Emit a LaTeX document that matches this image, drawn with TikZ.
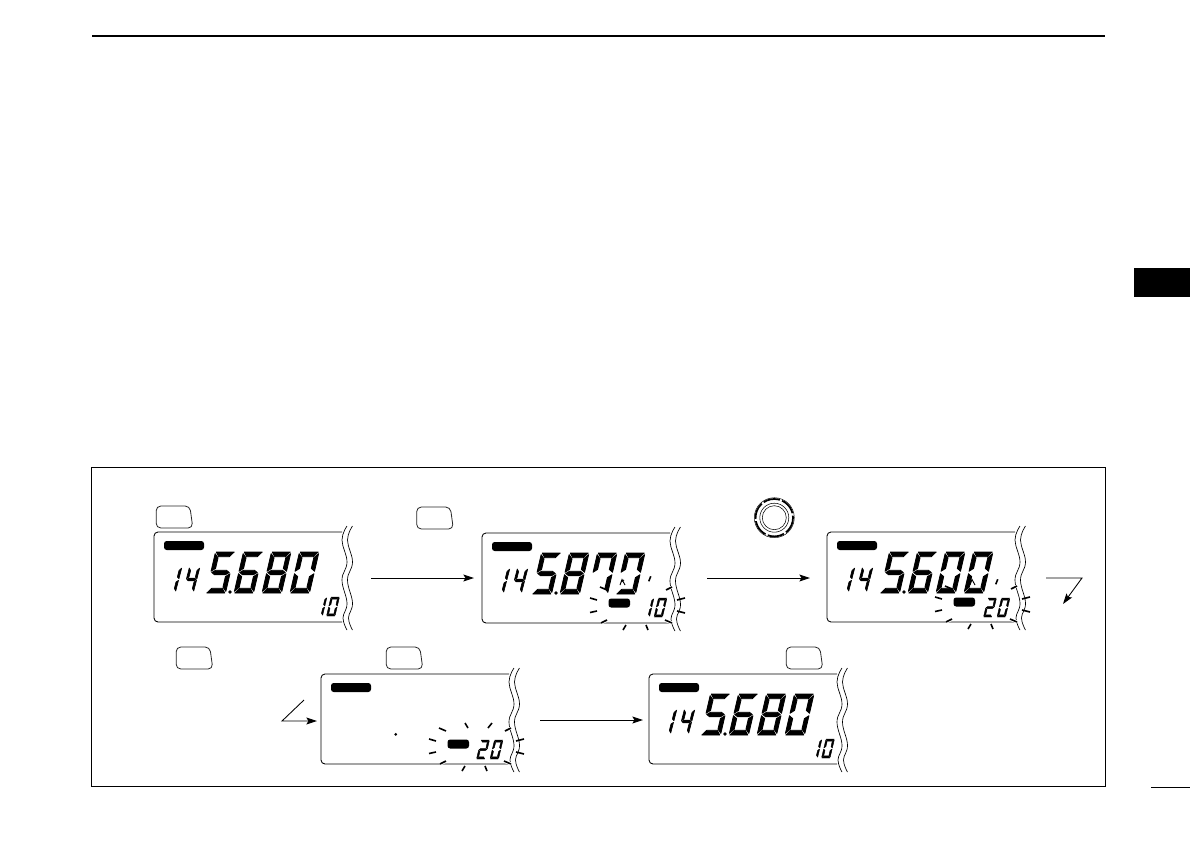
\documentclass[tikz,border=0pt]{standalone}
\usetikzlibrary{arrows.meta,calc}
\tikzset{
  x=0.75pt,y=-0.75pt,
  thin line/.style={line width=0.65pt,black},
  hair line/.style={line width=0.5pt,black},
  arrow line/.style={line width=0.65pt,black,-{Stealth[length=8pt,width=5.2pt,inset=1.6pt]}},
  ruleline/.style={line width=1pt,black},
  btnnode/.style={minimum width=27.5pt,minimum height=16.5pt,inner sep=0pt,outer sep=0pt},
  btnline/.style={line width=0.6pt,black!85,rounded corners=3.5pt},
  ticks/.style={line width=1.2pt,black},
  halo/.style={preaction={draw=white,line width=2.4pt}},
  segstroke/.style={every path/.style={draw,line width=#1,line join=round}},
}
% segments in unit coordinates: u 0..1 to the right, v 0..1 upwards
\newcommand\SegA{\fill (0.04,1)--(0.96,1)--(0.76,0.885)--(0.22,0.885)--cycle;}
\newcommand\SegD{\fill (0.04,0)--(0.96,0)--(0.78,0.115)--(0.24,0.115)--cycle;}
\newcommand\SegG{\fill (0.05,0.5)--(0.22,0.445)--(0.78,0.445)--(0.95,0.5)--(0.78,0.555)--(0.22,0.555)--cycle;}
\newcommand\SegF{\fill (0,0.96)--(0.2,0.86)--(0.2,0.6)--(0,0.53)--cycle;}
\newcommand\SegB{\fill (1,0.96)--(0.8,0.86)--(0.8,0.6)--(1,0.53)--cycle;}
\newcommand\SegE{\fill (0,0.04)--(0.2,0.14)--(0.2,0.4)--(0,0.47)--cycle;}
\newcommand\SegC{\fill (1,0.04)--(0.8,0.14)--(0.8,0.4)--(1,0.47)--cycle;}
\newcommand\DZero{\SegA\SegB\SegC\SegD\SegE\SegF}
\newcommand\DOne{\SegB\SegC}
\newcommand\DTwo{\SegA\SegB\SegG\SegE\SegD}
\newcommand\DFour{\SegF\SegG\SegB\SegC}
\newcommand\DFive{\SegA\SegF\SegG\SegC\SegD}
\newcommand\DSix{\SegA\SegF\SegG\SegC\SegD\SegE}
\newcommand\DEight{\SegA\SegB\SegC\SegD\SegE\SegF\SegG}
% #1 x, #2 y of lower left, #3 w, #4 h, #5 slant, #6 stroke, #7 segments
\newcommand\LcdDigit[7]{\begin{scope}[segstroke=#6,shift={(#1,#2)},x={(#3*0.75pt,0pt)},y={(#5*0.75pt,#4*0.75pt)}]#7\end{scope}}
\newcommand\BigD[3]{\LcdDigit{#1}{#2}{19.5}{41}{9.5}{0.6pt}{#3}}
\newcommand\MidD[3]{\LcdDigit{#1}{#2}{10.5}{25}{6.5}{0.45pt}{#3}}
\newcommand\SmlD[3]{\LcdDigit{#1}{#2}{8.5}{19}{4.5}{0.3pt}{#3}}
% LCD frame at origin: bar, outline, torn edge
\newcommand\LcdFrame{%
  \draw[thin line,rounded corners=3pt] (188,0)--(0,0)--(0,90)--(188,90);
  \fill[rounded corners=2pt] (10,9) rectangle (50,18);
  \draw[hair line] plot[smooth,tension=0.7] coordinates {(193,-6)(188,8)(193,30)(188,48)(193,71)(189,86)(193,98)};
  \draw[hair line] plot[smooth,tension=0.7] coordinates {(198.5,-6)(193.5,8)(198.5,30)(193.5,48)(198.5,71)(194.5,86)(198.5,98)};
}
\newcommand\Freq[1]{\MidD{11}{60}{\DOne}\MidD{29}{60}{\DFour}#1}
\newcommand\Blink{%
  \fill[rounded corners=2pt] (126.5,65.5) rectangle (148,74.5);
  \draw[ticks] (108,65)--(115,67) (108,79.5)--(115,78) (118,54)--(125,57) (141,97)--(144,92) (166,97)--(164,92) (195,67)--(203,65) (195,78)--(203,80);
  \draw[ticks,halo] (119,90)--(125,87);
  \draw[ticks,halo] (183,87)--(190,90);
  \draw[ticks,halo] (184,57)--(190,54);
}
\newcommand\Btn[3]{%
  \node[btnnode] (#1) at (#2,#3) {};
  \draw[btnline] (#1.north west)--($(#1.north east)+(-3,0)$)--(#1.south east)--(#1.south west)--cycle;
}
\begin{document}
\begin{tikzpicture}
\useasboundingbox (0,0) rectangle (1190,843);
\fill[white] (0,0) rectangle (1190,843);
% page furniture
\coordinate (ruleL) at (92,36); \coordinate (ruleR) at (1105,36);
\draw[ruleline] (ruleL)--(ruleR);
\fill (1134,268) rectangle (1190,297);
\coordinate (pgL) at (1151,787); \coordinate (pgR) at (1190,787);
\draw[line width=0.75pt] (pgL)--(pgR);
\draw[line width=0.65pt] (91,467) rectangle (1105,786.5);
% buttons
\Btn{b1}{174.5}{517}
\Btn{b2}{435}{518}
\Btn{b3}{194.5}{658}
\Btn{b4}{404.5}{658}
\Btn{b5}{804.5}{658}
% dial
\node[circle,minimum size=30pt,inner sep=0pt] (dial) at (774.3,517.7) {};
\draw[line width=1.3pt,dash pattern=on 12.6pt off 1.8pt] (dial.center) circle (18.7);
\draw[line width=0.35pt] (dial.center) circle (20);
\draw[line width=0.4pt] (dial.center) circle (14.5);
\draw[line width=0.4pt] (dial.center) circle (12);
% display 1
\begin{scope}[shift={(154,532)}]
  \LcdFrame
  \Freq{\BigD{52}{61}{\DFive}\BigD{80}{61}{\DSix}\BigD{108}{61}{\DEight}\BigD{136}{61}{\DZero}}
  \fill (76,60) circle (1.8);
  \SmlD{160}{84}{\DOne}\SmlD{172.5}{84}{\DZero}
\end{scope}
% display 2
\begin{scope}[shift={(482,533)}]
  \LcdFrame
  \Freq{\BigD{50}{61}{\DFive}\BigD{78}{61}{\DEight}\BigD{106}{61}{\SegA\SegF\SegB\SegC}\BigD{134}{61}{\SegA\SegF\SegB\SegC\SegD}}
  \fill (74,60) circle (1.8);
  \draw[line width=0.7pt] (138,52)--(140,46.5)--(143,52) (139,49)--(142,47);
  \fill (166,48)--(168,43)--(169.5,43.5)--(167.5,48.5)--cycle;
  \Blink
  \SmlD{159}{84}{\DOne}\SmlD{172}{84}{\DZero}
\end{scope}
% display 3
\begin{scope}[shift={(827,532)}]
  \LcdFrame
  \Freq{\BigD{53}{61}{\DFive}\BigD{81}{61}{\DSix}\BigD{109}{61}{\DZero}\BigD{137}{61}{\DZero}}
  \fill (77,60) circle (1.8);
  \draw[line width=0.7pt] (143,53)--(145,47.5)--(148,53);
  \fill (168,52)--(170,47)--(171.5,47.5)--(169.5,52.5)--cycle;
  \Blink
  \SmlD{156.5}{85}{\DTwo}\SmlD{170}{85}{\DZero}
\end{scope}
% display 4
\begin{scope}[shift={(321,674)}]
  \LcdFrame
  \fill (74.7,60.3) circle (1.5);
  \Blink
  \draw[ticks] (144,49)--(147,54) (167,54)--(171,49);
  \SmlD{155.5}{85}{\DTwo}\SmlD{169}{85}{\DZero}
\end{scope}
% display 5
\begin{scope}[shift={(649,674)}]
  \LcdFrame
  \Freq{\BigD{52}{61}{\DFive}\BigD{80}{61}{\DSix}\BigD{108}{61}{\DEight}\BigD{136}{61}{\DZero}}
  \fill (76,60) circle (1.8);
  \SmlD{160}{84}{\DOne}\SmlD{172.5}{84}{\DZero}
\end{scope}
% connectors
\coordinate (a1s) at (371,578); \coordinate (a1e) at (474,578);
\coordinate (a2s) at (707,578); \coordinate (a2e) at (810,578);
\coordinate (a3s) at (1046,578); \coordinate (a3c) at (1082,578); \coordinate (a3e) at (1063,604);
\coordinate (a4s) at (304,700); \coordinate (a4c) at (282,721); \coordinate (a4e) at (317,721);
\coordinate (a5s) at (540,720); \coordinate (a5e) at (643,720);
\draw[arrow line] (a1s)--(a1e);
\draw[arrow line] (a2s)--(a2e);
\draw[arrow line] (a3s)--(a3c)--(a3e);
\draw[arrow line] (a4s)--(a4c)--(a4e);
\draw[arrow line] (a5s)--(a5e);
\end{tikzpicture}
\end{document}
